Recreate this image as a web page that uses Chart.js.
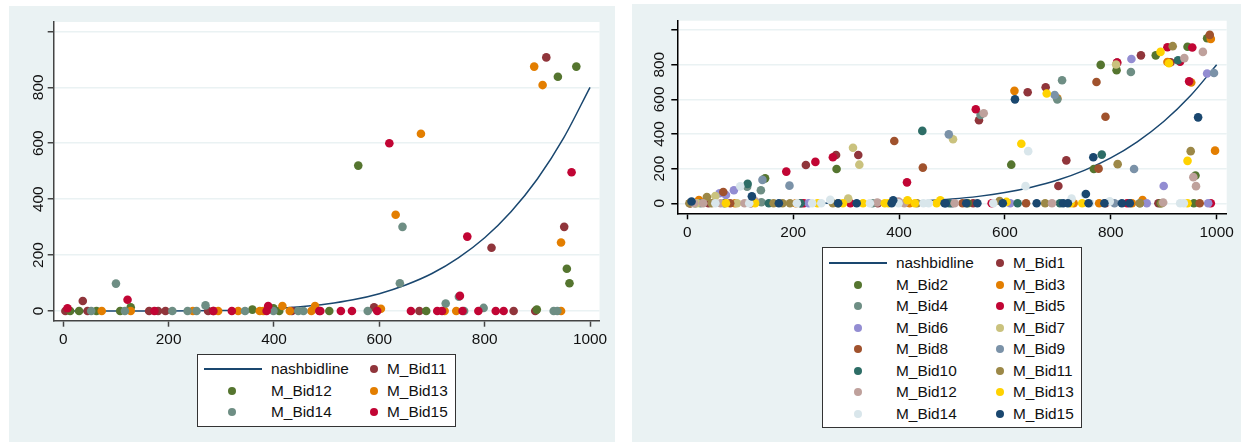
<!DOCTYPE html>
<html>
<head>
<meta charset="utf-8">
<script src="https://cdn.jsdelivr.net/npm/chart.js@4"></script>
<style>
    body { margin: 0; background: #fff; font-family: "Liberation Sans", Arial, sans-serif; color: #111; overflow: hidden; }
    .panel { position: absolute; background: #eaf2f3; }
    canvas { position: absolute; left: 0; top: 0; }
    .legend { position: absolute; background: #fff; border: 1px solid #333; box-sizing: border-box; }
    .legend span { position: absolute; white-space: nowrap; font-size: 15.4px; line-height: 16px; }
    .legend i { position: absolute; }
</style>
</head>
<body>
<div class="panel" id="leftPanel" style="left:9px;top:6px;width:606px;height:436px">
    <canvas id="leftChart" width="606" height="436"></canvas>
    <div class="legend" id="leftLegend" style="left:188px;top:348px;width:259px;height:73px"></div>
</div>
<div class="panel" id="rightPanel" style="left:632px;top:4px;width:609px;height:438px">
    <canvas id="rightChart" width="609" height="438"></canvas>
    <div class="legend" id="rightLegend" style="left:190px;top:243px;width:260px;height:181px"></div>
</div>
<script>
let xTicks = [0, 200, 400, 600, 800, 1000];
let xLabels = ['0', '200', '400', '600', '800', '1000'];
let yTicks = [0, 200, 400, 600, 800, 1000];
let yLabels = ['0', '200', '400', '600', '800', ''];

let nashbidline = [[0, 0], [50, 0], [100, 0], [150, 0.1], [200, 0.3], [250, 0.8], [300, 2], [350, 4], [400, 8], [450, 15], [500, 25],
    [550, 40], [600, 62], [650, 93], [700, 134], [750, 190], [800, 262], [850, 355], [900, 472], [950, 619], [1000, 800]];

let bid1 = [[5, 0], [40, 0], [120, 0], [215, 0], [224, 221], [281, 279], [323, 279], [360, 0], [540, 0], [551, 479], [643, 641], [677, 670],
    [701, 100], [716, 248], [790, 0], [812, 812], [857, 854], [890, 0], [913, 814]];
let bid2 = [[15, 0], [70, 0], [147, 144], [282, 198], [500, 0], [530, 0], [612, 223], [768, 198], [781, 799], [811, 768], [885, 854], [894, 0],
    [945, 904], [957, 0], [960, 160], [982, 953]];
let bid3 = [[22, 19], [90, 0], [205, 0], [420, 0], [618, 649], [699, 606], [730, 0], [778, 0], [840, 0], [860, 19], [907, 816], [952, 697], [989, 949], [997, 304]];
let bid4 = [[25, 0], [113, 96], [139, 75], [140, 6], [350, 0], [554, 510], [699, 600], [708, 710], [838, 758], [855, 0]];
let bid5 = [[187, 183], [220, 0], [242, 239], [275, 266], [308, 0], [415, 121], [545, 543], [575, 0], [812, 812], [831, 0], [907, 901], [931, 818], [948, 704], [954, 899], [989, 0]];
let bid6 = [[61, 58], [73, 48], [88, 75], [229, 0], [500, 0], [610, 0], [839, 833], [868, 0], [900, 100], [982, 749], [984, 0]];
let bid7 = [[18, 0], [53, 42], [94, 0], [304, 27], [313, 321], [325, 223], [502, 370], [810, 801]];
let bid8 = [[6, 0], [68, 65], [81, 0], [391, 360], [445, 206], [520, 0], [640, 0], [773, 700], [777, 200], [790, 500], [968, 0], [987, 972]];
let bid9 = [[142, 135], [193, 102], [494, 398], [694, 625], [807, 0], [844, 198], [995, 752]];
let bid10 = [[114, 112], [154, 0], [214, 0], [444, 418], [495, 0], [624, 0], [704, 0], [783, 281], [927, 826]];
let bid11 = [[4, 0], [37, 36], [46, 0], [163, 0], [180, 0], [194, 0], [275, 0], [285, 0], [434, 0], [590, 13], [676, 0], [813, 226], [855, 0], [896, 0], [917, 907], [951, 301]];
let bid12 = [[13, 0], [30, 0], [63, 0], [108, 0], [128, 13], [359, 5], [399, 10], [410, 0], [505, 0], [560, 520], [689, 0], [899, 5], [939, 838], [956, 151], [961, 99], [974, 874]];
let bid13 = [[73, 0], [128, 0], [246, 0], [294, 0], [332, 0], [373, 0], [380, 0], [416, 18], [430, 0], [471, 0], [478, 18], [603, 8], [631, 344], [679, 634],
    [724, 0], [746, 0], [894, 874], [910, 808], [945, 245], [945, 0]];
let bid14 = [[53, 0], [100, 98], [117, 0], [207, 0], [236, 0], [253, 0], [270, 20], [345, 0], [399, 0], [446, 0], [456, 0], [578, 0], [639, 99], [644, 301],
    [726, 27], [751, 51], [761, 0], [798, 11], [931, 0], [938, 0]];
let bid15 = [[8, 10], [122, 40], [173, 0], [285, 0], [320, 0], [386, 0], [389, 18], [486, 0], [488, 0], [527, 0], [548, 0], [596, 0], [619, 600], [660, 0],
    [710, 0], [719, 0], [753, 54], [758, 0], [767, 266], [788, 0], [821, 0], [836, 0], [965, 496]];

let leftNames = ['M_Bid11', 'M_Bid12', 'M_Bid13', 'M_Bid14', 'M_Bid15'];
let leftValues = [bid11, bid12, bid13, bid14, bid15];
let leftColors = ['#90353b', '#55752f', '#e37e00', '#6e8e84', '#c10534'];

let rightNames = ['M_Bid1', 'M_Bid2', 'M_Bid3', 'M_Bid4', 'M_Bid5', 'M_Bid6', 'M_Bid7', 'M_Bid8', 'M_Bid9', 'M_Bid10', 'M_Bid11', 'M_Bid12', 'M_Bid13', 'M_Bid14', 'M_Bid15'];
let rightValues = [bid1, bid2, bid3, bid4, bid5, bid6, bid7, bid8, bid9, bid10, bid11, bid12, bid13, bid14, bid15];
let rightColors = ['#90353b', '#55752f', '#e37e00', '#6e8e84', '#c10534', '#938dd2', '#cac27e', '#a0522d', '#7b92a8', '#2d6d66', '#9c8847', '#bfa19c', '#ffd200', '#d9e6eb', '#1a476f'];

let lineColor = '#1a476f';
let gridColor = '#eaf2f3';

let toPoints = (pairs) => pairs.map(p => ({ x: p[0], y: p[1] }));

// chart.js draws the first dataset on top, so order is flipped to keep stata's overdraw
function buildDatasets(names, values, colors) {
    let sets = [{
        label: 'nashbidline',
        data: toPoints(nashbidline),
        showLine: true,
        borderColor: lineColor,
        borderWidth: 1.5,
        pointRadius: 0,
        cubicInterpolationMode: 'monotone',
        order: names.length + 1,
    }];
    names.forEach((name, i) => {
        sets.push({
            label: name,
            data: toPoints(values[i]),
            showLine: false,
            backgroundColor: colors[i],
            borderWidth: 0,
            pointRadius: 4.3,
            order: names.length - i,
        });
    });
    return sets;
}

let whitePlot = {
    id: 'whitePlot',
    beforeDraw: function (chart) {
        let a = chart.chartArea;
        chart.ctx.fillStyle = '#fff';
        chart.ctx.fillRect(a.left, a.top, a.width, a.height);
    },
};

function makeChart(id, names, values, colors, box, axisColor) {
    let ctx = document.getElementById(id).getContext('2d');
    return new Chart(ctx, {
        type: 'scatter',
        data: { datasets: buildDatasets(names, values, colors) },
        plugins: [whitePlot],
        options: {
            responsive: false,
            animation: false,
            layout: { padding: { left: 0, top: box.top, right: box.right, bottom: 0 } },
            plugins: { legend: { display: false }, tooltip: { enabled: false } },
            scales: {
                x: {
                    type: 'linear',
                    min: box.xMin,
                    max: box.xMax,
                    afterFit: function (scale) { scale.height = box.xAxisHeight; },
                    afterBuildTicks: function (scale) { scale.ticks = xTicks.map(v => ({ value: v })); },
                    grid: { drawOnChartArea: false, tickColor: axisColor, tickWidth: 1.5, tickLength: 6 },
                    border: { color: axisColor, width: 1.5 },
                    ticks: {
                        color: '#111',
                        font: { family: 'Liberation Sans', size: 15.4 },
                        padding: 4,
                        maxRotation: 0,
                        autoSkip: false,
                        callback: function (value) { return xLabels[xTicks.indexOf(value)]; },
                    },
                },
                y: {
                    type: 'linear',
                    min: box.yMin,
                    max: box.yMax,
                    afterFit: function (scale) { scale.width = box.yAxisWidth; },
                    afterBuildTicks: function (scale) { scale.ticks = yTicks.map(v => ({ value: v })); },
                    grid: { color: gridColor, lineWidth: 1.5, tickColor: axisColor, tickWidth: 1.5, tickLength: 6 },
                    border: { color: axisColor, width: 1.5 },
                    ticks: {
                        color: '#111',
                        font: { family: 'Liberation Sans', size: 15.4 },
                        padding: box.yPad,
                        minRotation: 90,
                        maxRotation: 90,
                        crossAlign: 'center',
                        autoSkip: false,
                        callback: function (value) { return yLabels[yTicks.indexOf(value)]; },
                    },
                },
            },
        },
    });
}

function addEntry(legend, row, col, set, layout) {
    let y = layout.firstRow + row * layout.rowGap;
    let markX = layout.markX[col];
    if (set.showLine) {
        let line = document.createElement('i');
        line.style.cssText = 'left:' + layout.lineLeft + 'px;top:' + (y - 1) + 'px;width:' + layout.lineWidth + 'px;height:1.5px;background:' + set.borderColor;
        legend.appendChild(line);
    } else {
        let dot = document.createElement('i');
        dot.style.cssText = 'left:' + (markX - 4) + 'px;top:' + (y - 4) + 'px;width:8px;height:8px;border-radius:50%;background:' + set.backgroundColor;
        legend.appendChild(dot);
    }
    let text = document.createElement('span');
    text.textContent = set.label;
    text.style.left = layout.textX[col] + 'px';
    text.style.top = (y - 8) + 'px';
    legend.appendChild(text);
}

function buildLegend(id, chart, layout) {
    let legend = document.getElementById(id);
    chart.data.datasets.forEach((set, i) => {
        addEntry(legend, Math.floor(i / 2), i % 2, set, layout);
    });
}

let leftChart = makeChart('leftChart', leftNames, leftValues, leftColors, {
    top: 16, right: 15.5, xAxisHeight: 121.3, yAxisWidth: 44.7, yPad: -3.4,
    xMin: -18.2, xMax: 1018, yMin: -34.7, yMax: 1033.6,
}, '#444');

let rightChart = makeChart('rightChart', rightNames, rightValues, rightColors, {
    top: 16.7, right: 14.3, xAxisHeight: 228.7, yAxisWidth: 45.3, yPad: -1.4,
    xMin: -18.9, xMax: 1019, yMin: -57.7, yMax: 1054,
}, '#000');

buildLegend('leftLegend', leftChart, { firstRow: 14, rowGap: 21.5, lineLeft: 6, lineWidth: 58, markX: [34, 176], textX: [73, 189] });
buildLegend('rightLegend', rightChart, { firstRow: 15, rowGap: 21.5, lineLeft: 6, lineWidth: 58, markX: [35, 177], textX: [73, 190] });
</script>
</body>
</html>
